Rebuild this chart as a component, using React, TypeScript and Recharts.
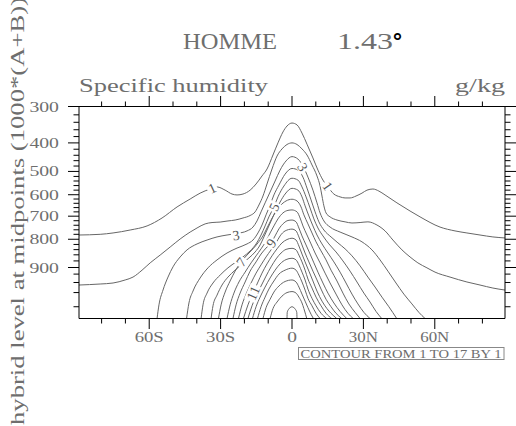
import React from "react";
import { ComposedChart, Line, XAxis, YAxis, Scatter } from "recharts";

// hybrid level midpoints (1000*(A+B)); the y axis is uniform in level index
const LEVELS = [
  3.54, 7.39, 13.97, 23.94, 37.23, 53.11, 70.06, 85.44, 100.51, 118.25, 139.12,
  163.66, 192.54, 226.51, 266.48, 313.5, 368.82, 433.9, 510.46, 600.52, 696.8,
  787.7, 867.16, 929.65, 970.55, 992.56,
];

const P_TOP = 300;
const LAT_DOMAIN = [-89.5, 89.5];

const X_MAJOR = [-60, -30, 0, 30, 60];
const X_LABELS = ["60S", "30S", "0", "30N", "60N"];
const X_MINOR = [-80, -70, -50, -40, -20, -10, 10, 20, 40, 50, 70, 80];

const Y_MAJOR = [300, 400, 500, 600, 700, 800, 900];
const Y_MINOR = [
  320, 340, 360, 380, 420, 440, 460, 480, 520, 540, 560, 580, 620, 640, 660, 680,
  720, 740, 760, 780, 820, 840, 860, 880, 920, 940, 960, 980,
];

// contours of specific humidity (g/kg), points as [lat, hybrid level]
const C01 = [[-89.5,783],[-80.6,780],[-75.2,774],[-68,761],[-60.9,743],[-54.6,708],[-48.3,657],[-42.8,620],[-38.6,593],[-34.4,575],[-31.5,566],[-28.1,580],[-25.2,597],[-23.1,601],[-20.6,597],[-17.6,580],[-15.1,553],[-12.6,518],[-10.5,491],[-8,439],[-5.9,400],[-3.8,366],[-2.1,350],[0,342],[2.1,347],[4.2,369],[6.3,404],[8.8,450],[10.9,495],[13,536],[15.1,566],[17.6,597],[20.2,610],[22.3,615],[24.4,615],[26.9,606],[29.4,593],[31.5,580],[34,575],[36.5,584],[39.1,601],[44.1,638],[49.6,676],[53.8,703],[62.2,748],[68.5,765],[73.5,774],[79,783],[84.4,791],[89.5,795]];
const C02 = [[-89.5,945],[-80.6,943],[-75.2,941],[-70.1,935],[-66.8,929],[-63,908],[-59.6,886],[-55.4,861],[-51.2,830],[-47,799],[-42.8,770],[-39.9,752],[-36.5,734],[-33.6,728],[-30.2,726],[-26.9,721],[-23.9,717],[-20.6,708],[-17.6,697],[-15.5,680],[-13.9,648],[-12.2,606],[-10.5,553],[-8.4,491],[-6.3,443],[-4.2,419],[-2.1,405],[0,400],[2.1,405],[4.2,419],[6.3,439],[8.4,476],[10.5,518],[11.8,562],[12.6,606],[13.4,652],[14.3,685],[16,703],[18.9,717],[22.3,725],[25.2,730],[28.6,728],[31.9,725],[35.7,739],[39.1,765],[42.4,803],[46.2,841],[49.6,868],[52.9,886],[56.7,901],[60.1,914],[66.4,929],[73.5,939],[79,945],[84.4,951],[89.5,955]];
const C03 = [[-56.7,992.6],[-55.9,978],[-54.2,955],[-52.1,929],[-50,898],[-47,868],[-44.1,841],[-39.9,818],[-35.7,803],[-31.5,791],[-27.3,783],[-23.1,776],[-18.9,765],[-16.4,748],[-14.7,721],[-13,680],[-11.3,638],[-9.2,588],[-7.1,540],[-5,495],[-2.5,461],[0,445],[2.5,454],[4.6,480],[6.7,523],[8.8,580],[10.5,638],[11.8,685],[13.4,721],[16,748],[20.2,770],[25.2,791],[29.4,810],[33.6,841],[37,877],[40.3,911],[43.7,941],[47,963],[50.4,977],[53.3,986],[55.9,992.6]];
const C04 = [[-44.3,992.6],[-43.3,976],[-41.6,957],[-38.6,931],[-35.3,901],[-31.5,877],[-27.3,853],[-23.1,834],[-18.9,818],[-16.4,803],[-14.3,774],[-12.6,739],[-10.9,694],[-9.2,648],[-7.6,601],[-5.5,558],[-2.9,510],[0,489],[2.5,495],[4.6,523],[6.3,571],[8,624],[9.7,680],[11.3,725],[13.4,761],[16.4,791],[19.3,814],[22.3,837],[25.2,864],[28.6,895],[31.9,929],[34.9,949],[37.8,969],[40.7,980],[44,992.6]];
const C05 = [[-38.2,992.6],[-37.4,978],[-35.7,961],[-33.2,941],[-30.2,923],[-26.9,901],[-23.5,883],[-20.6,868],[-17.6,845],[-15.1,818],[-13,783],[-11.3,743],[-9.7,703],[-7.6,657],[-5.9,610],[-3.4,562],[0,528],[2.5,536],[4.2,566],[5.9,610],[7.6,662],[9.2,712],[10.9,752],[13,787],[15.5,818],[18.5,849],[21.4,880],[24.4,911],[27.3,939],[30.2,961],[32.8,975],[35.3,985],[37.7,992.6]];
const C06 = [[-34,992.6],[-33.2,979],[-31.5,965],[-29.4,945],[-26.9,929],[-23.9,908],[-21,889],[-18.1,871],[-15.5,849],[-13.4,822],[-11.8,791],[-10.1,752],[-8.4,712],[-6.7,671],[-5,634],[-2.9,597],[0,572],[2.5,580],[4.2,610],[5.5,652],[7.1,699],[8.8,743],[10.5,783],[12.6,818],[15.1,853],[17.6,883],[20.2,914],[22.7,941],[25.2,963],[27.7,977],[30.2,986],[32.8,992.6]];
const C07 = [[-30.9,992.6],[-29.8,978],[-28.1,959],[-26,937],[-23.9,911],[-21.4,883],[-18.9,861],[-16.4,837],[-14.3,814],[-12.2,787],[-10.5,752],[-8.8,717],[-7.1,685],[-5,652],[-2.5,629],[0,621],[2.1,629],[3.8,657],[5,694],[6.7,734],[8.4,774],[10.1,810],[12.2,845],[14.3,877],[16.4,908],[18.9,937],[21.4,961],[23.9,977],[26.5,986],[28.6,992.6]];
const C08 = [[-27.3,992.6],[-26,978],[-24.4,961],[-22.3,939],[-19.7,914],[-17.2,886],[-15.1,864],[-13,837],[-10.9,807],[-9.2,774],[-7.6,743],[-5.9,712],[-3.8,685],[-1.7,673],[0,671],[2.1,680],[3.4,708],[4.6,743],[6.3,783],[8,818],[9.7,853],[11.8,886],[13.9,917],[16,941],[18.5,963],[21,978],[23.5,987],[25.7,992.6]];
const C09 = [[-24.8,992.6],[-23.5,978],[-21.8,961],[-19.7,939],[-17.6,911],[-15.1,883],[-13,857],[-10.9,834],[-8.8,814],[-7.1,787],[-5.5,756],[-3.4,730],[-1.7,719],[0,717],[1.7,725],[2.9,752],[4.2,787],[5.9,822],[7.6,857],[9.2,886],[10.9,914],[13,941],[15.1,961],[17.6,976],[20.2,985],[23,992.6]];
const C10 = [[-22.5,992.6],[-21,978],[-19.3,963],[-17.2,941],[-15.1,917],[-13,892],[-10.9,868],[-8.8,841],[-6.7,814],[-5,787],[-2.9,765],[0,757],[1.7,765],[2.9,791],[4.2,822],[5.5,853],[7.1,883],[8.8,911],[10.5,935],[12.2,953],[14.3,972],[16.4,980],[18.5,987],[20.9,992.6]];
const C11 = [[-20.4,992.6],[-18.5,978],[-16.4,961],[-14.3,939],[-12.6,917],[-10.5,889],[-8.4,864],[-6.3,837],[-4.2,814],[-2.1,801],[0,796],[1.7,803],[2.9,826],[4.2,857],[5.5,883],[7.1,911],[8.8,937],[10.5,957],[12.6,974],[14.7,982],[16.4,987],[18.8,992.6]];
const C12 = [[-18.5,992.6],[-16.8,979],[-15.1,967],[-13,947],[-10.9,926],[-8.8,898],[-6.7,874],[-4.6,853],[-2.5,839],[0,835],[1.7,841],[2.9,861],[4.2,883],[5.5,908],[6.7,933],[8.4,951],[10.1,969],[12.2,979],[14.3,987],[16.7,992.6]];
const C13 = [[-16.6,992.6],[-15.1,980],[-13.4,969],[-11.3,949],[-9.2,931],[-7.1,908],[-5,889],[-2.5,876],[0,872],[1.7,877],[2.9,892],[4.2,914],[5.5,935],[6.7,953],[8.4,971],[10.1,979],[12.2,987],[14.6,992.6]];
const C14 = [[-14.5,992.6],[-13,980],[-11.3,969],[-9.7,953],[-7.6,937],[-5.5,920],[-2.9,908],[0,902],[1.7,908],[2.9,923],[4.2,939],[5.5,955],[6.7,971],[8.4,979],[10.1,987],[11.8,992.6]];
const C15 = [[-12.2,992.6],[-10.9,981],[-9.2,972],[-7.6,959],[-5.5,947],[-2.9,938],[0,935],[1.7,939],[2.9,949],[4.2,963],[5.5,974],[6.7,981],[8,988],[9,992.6]];
const C16 = [[-9.2,992.6],[-8,982],[-6.3,975],[-4.2,967],[-2.1,960],[0,958],[1.7,961],[2.9,969],[4.2,976],[5,982],[5.7,988],[6.2,992.6]];
const C17 = [[-2.1,992.6],[-2,986],[-1.5,983],[-0.8,981],[0,980],[0.8,981],[1.5,983],[2,986],[2.1,992.6]];

const CONTOURS = [C01, C02, C03, C04, C05, C06, C07, C08, C09, C10, C11, C12, C13, C14, C15, C16, C17];

const LABEL_TEXT = ["1", "1", "3", "3", "5", "7", "9", "11"];
const LABEL_LAT = [-33.6, 15.1, -23.5, 4.6, -7.6, -21.4, -8.8, -16.4];
const LABEL_P = [571, 562, 783, 484, 657, 883, 814, 961];
const LABEL_ANGLE = [-25, 55, -8, 60, -65, -53, -53, -66];

const FONT = '"Liberation Serif", serif';
const TEXT_FILL = "#6e6e6e";
const LINE_COLOR = "#666";

// pressure -> fractional level index (irregular axis)
function toLevel(p: number) {
  for (let i = 0; i < LEVELS.length - 1; i++) {
    if (p <= LEVELS[i + 1]) return i + (p - LEVELS[i]) / (LEVELS[i + 1] - LEVELS[i]);
  }
  return LEVELS.length - 1;
}

const Y_DOMAIN = [toLevel(P_TOP), LEVELS.length - 1];
const Y_TICKS = [
  ...Y_MAJOR.map((p) => ({ p, lev: toLevel(p), major: true })),
  ...Y_MINOR.map((p) => ({ p, lev: toLevel(p), major: false })),
];
const X_TICKS = [...X_MAJOR, ...X_MINOR].sort((a, b) => a - b);

const series = CONTOURS.map((c) => c.map(([lat, p]) => ({ x: lat, y: toLevel(p) })));
const labelData = LABEL_TEXT.map((t, i) => ({
  x: LABEL_LAT[i],
  y: toLevel(LABEL_P[i]),
  text: t,
  angle: LABEL_ANGLE[i],
}));

function findY(v: number) {
  return Y_TICKS.find((d) => Math.abs(d.lev - v) < 1e-6);
}

function LeftTick(props: any) {
  const { x, y, payload } = props;
  const t = findY(payload.value);
  const major = !!t && t.major;
  return (
    <g>
      <line x1={x - (major ? 11 : 5.5)} x2={x} y1={y} y2={y} stroke="#000" />
      {major && t && (
        <text x={x - 20} y={y + 5} textAnchor="end" fontFamily={FONT} fontSize={15}
          fill={TEXT_FILL} textLength={29.6} lengthAdjust="spacingAndGlyphs">
          {t.p}
        </text>
      )}
    </g>
  );
}

function RightTick(props: any) {
  const { x, y, payload } = props;
  const t = findY(payload.value);
  const major = !!t && t.major;
  return <line x1={x} x2={x + (major ? 11 : 5.5)} y1={y} y2={y} stroke="#000" />;
}

function BottomTick(props: any) {
  const { x, y, payload } = props;
  const k = X_MAJOR.indexOf(payload.value);
  const major = k >= 0;
  const lab = major ? X_LABELS[k] : "";
  return (
    <g>
      <line x1={x} x2={x} y1={y} y2={y + (major ? 10.5 : 5)} stroke="#000" />
      {major && (
        <text x={x} y={y + 23.5} textAnchor="middle" fontFamily={FONT} fontSize={14.5}
          fill={TEXT_FILL} textLength={lab.length * 9.7} lengthAdjust="spacingAndGlyphs">
          {lab}
        </text>
      )}
    </g>
  );
}

function TopTick(props: any) {
  const { x, y, payload } = props;
  const major = X_MAJOR.indexOf(payload.value) >= 0;
  return <line x1={x} x2={x} y1={y - (major ? 10.5 : 5)} y2={y} stroke="#000" />;
}

function ContourLabel(props: any) {
  const { cx, cy, payload } = props;
  if (cx == null || cy == null) return null;
  const w = payload.text.length * 7 + 3;
  return (
    <g transform={`translate(${cx},${cy}) rotate(${payload.angle})`}>
      <rect x={-w / 2} y={-6} width={w} height={12} fill="#fff" />
      <text x={0} y={5} textAnchor="middle" fontFamily={FONT} fontSize={14} fill="#555"
        textLength={payload.text.length * 7} lengthAdjust="spacingAndGlyphs">
        {payload.text}
      </text>
    </g>
  );
}

export default function App() {
  return (
    <div style={{ position: "absolute", left: 0, top: 0, width: 516, height: 426, background: "#fff" }}>
      <ComposedChart width={516} height={426} margin={{ top: 105.5, right: 10, bottom: 106.5, left: 78 }}>
        <XAxis xAxisId="b" type="number" dataKey="x" domain={LAT_DOMAIN} allowDataOverflow
          ticks={X_TICKS} interval={0} tickSize={0} tickMargin={0} tickLine={false}
          tick={<BottomTick />} axisLine={{ stroke: "#000" }} height={1} />
        <XAxis xAxisId="t" orientation="top" type="number" dataKey="x" domain={LAT_DOMAIN} allowDataOverflow
          ticks={X_TICKS} interval={0} tickSize={0} tickMargin={0} tickLine={false}
          tick={<TopTick />} axisLine={{ stroke: "#000" }} height={1} />
        <YAxis yAxisId="l" type="number" dataKey="y" domain={Y_DOMAIN} reversed allowDataOverflow
          ticks={Y_TICKS.map((t) => t.lev)} interval={0} tickSize={0} tickMargin={0} tickLine={false}
          tick={<LeftTick />} axisLine={{ stroke: "#000" }} width={1} />
        <YAxis yAxisId="r" orientation="right" type="number" dataKey="y" domain={Y_DOMAIN} reversed allowDataOverflow
          ticks={Y_TICKS.map((t) => t.lev)} interval={0} tickSize={0} tickMargin={0} tickLine={false}
          tick={<RightTick />} axisLine={{ stroke: "#000" }} width={1} />
        {series.map((d, i) => (
          <Line key={i} xAxisId="b" yAxisId="l" data={d} dataKey="y" type="monotone"
            stroke={LINE_COLOR} strokeWidth={1} dot={false} activeDot={false}
            isAnimationActive={false} />
        ))}
        <Scatter xAxisId="b" yAxisId="l" data={labelData} dataKey="y"
          shape={<ContourLabel />} isAnimationActive={false} />
      </ComposedChart>
      <svg width={516} height={426} style={{ position: "absolute", left: 0, top: 0, pointerEvents: "none" }}>
        <text x={183} y={49} fontFamily={FONT} fontSize={24} fill={TEXT_FILL}
          textLength={94} lengthAdjust="spacingAndGlyphs">HOMME</text>
        <text x={337} y={49} fontFamily={FONT} fontSize={24} fill={TEXT_FILL}
          textLength={56} lengthAdjust="spacingAndGlyphs">1.43</text>
        <text x={392} y={49} fontFamily='"DejaVu Sans", sans-serif' fontSize={22}
          fontWeight="bold" fill="#000">°</text>
        <text x={79} y={91.7} fontFamily={FONT} fontSize={18.5} fill={TEXT_FILL}
          textLength={189} lengthAdjust="spacingAndGlyphs">Specific humidity</text>
        <text x={455} y={91.7} fontFamily={FONT} fontSize={18.5} fill={TEXT_FILL}
          textLength={50} lengthAdjust="spacingAndGlyphs">g/kg</text>
        <text x={23.5} y={211} transform="rotate(-90 23.5 211)" textAnchor="middle"
          fontFamily={FONT} fontSize={18.5} fill={TEXT_FILL}
          textLength={428} lengthAdjust="spacingAndGlyphs">
          hybrid level at midpoints (1000*(A+B))
        </text>
        <rect x={298.5} y={347.5} width={205.5} height={12} fill="none" stroke="#888" />
        <text x={300.5} y={357.7} fontFamily={FONT} fontSize={13.5} fill={TEXT_FILL}
          textLength={201} lengthAdjust="spacingAndGlyphs">CONTOUR FROM 1 TO 17 BY 1</text>
      </svg>
    </div>
  );
}
